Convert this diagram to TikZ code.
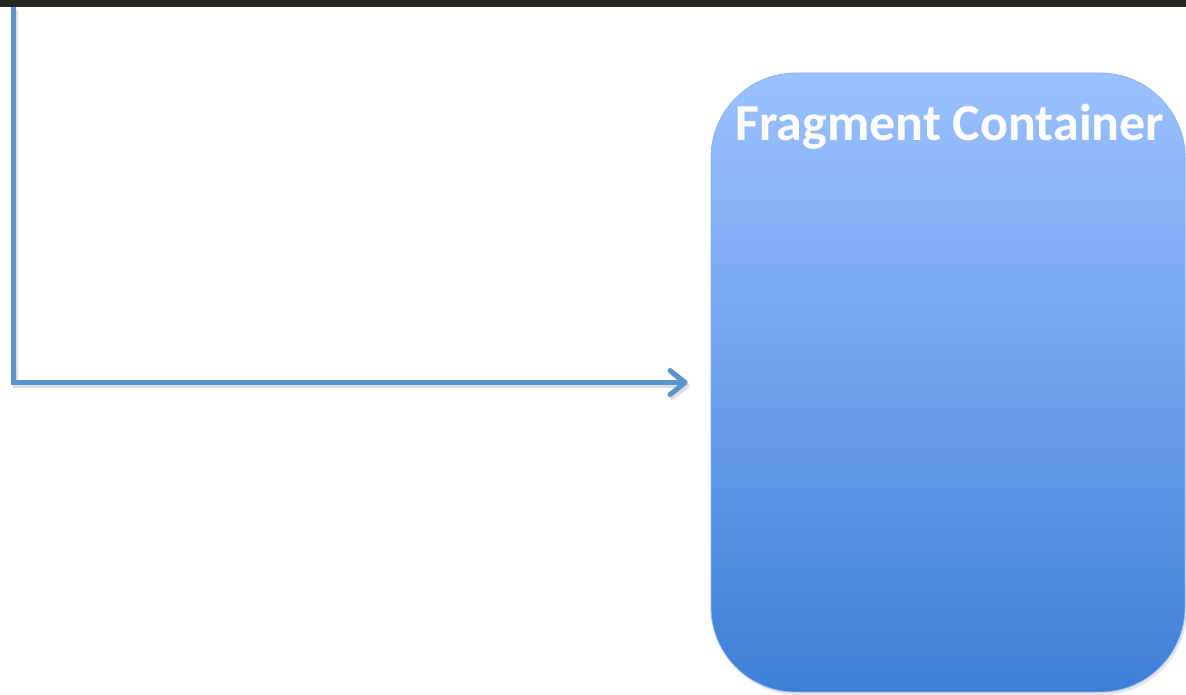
\documentclass[tikz,border=0pt]{standalone}
\usepackage{fontspec}
\setmainfont{Carlito}
\usetikzlibrary{arrows.meta,shadows}

\definecolor{topbar}{RGB}{38,38,34}
\definecolor{linkblue}{RGB}{91,148,205}
\definecolor{boxtop}{RGB}{156,193,255}
\definecolor{boxbottom}{RGB}{62,127,214}

\begin{document}
\begin{tikzpicture}[
	x=1pt, y=-1pt,
	container/.style={
		rectangle,
		draw=boxtop!80!boxbottom,
		line width=0.8pt,
		rounded corners=85pt,
		top color=boxtop,
		bottom color=boxbottom,
		minimum height=619pt,
		minimum width=474pt,
		drop shadow={shadow xshift=2pt, shadow yshift=-3pt, opacity=0.2}
	},
	link/.style={
		draw=linkblue,
		line width=5pt,
		-{Straight Barb[length=15pt, width=24pt, line cap=round, line join=round]},
		preaction={draw=black!13, line width=5pt, transform canvas={shift={(2pt,-3pt)}}}
	},
]

\useasboundingbox (0,0) rectangle (1186,695);
\fill[topbar] (0,0) rectangle (1186,7);

\node[container] (frag) at (948,382.5) {};
\node[anchor=north, text=white, font=\bfseries\fontsize{52}{62}\selectfont, inner sep=0pt] 
(fragtitle) at ([xshift=2pt, yshift=-31pt]frag.north) {Fragment Container};

%\draw (0,0) grid (1186,695);

\coordinate (start) at (13,7);
\draw[link, shorten >=23pt] (start) |- (frag.west);

\end{tikzpicture}
\end{document}
